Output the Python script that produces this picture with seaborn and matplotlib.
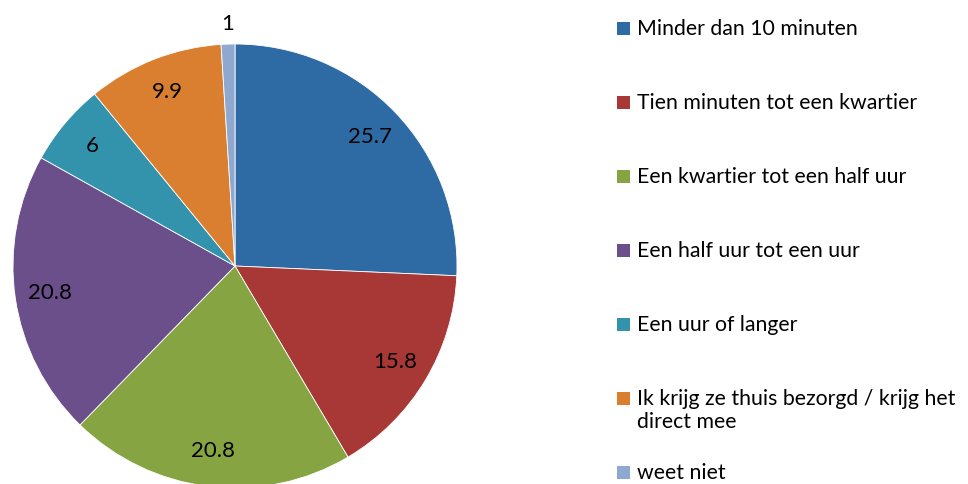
import numpy as np
import matplotlib.pyplot as plt
import seaborn as sns
from matplotlib.patches import Rectangle

categories = [
    "Minder dan 10 minuten",
    "Tien minuten tot een kwartier",
    "Een kwartier tot een half uur",
    "Een half uur tot een uur",
    "Een uur of langer",
    "Ik krijg ze thuis bezorgd / krijg het\ndirect mee",
    "weet niet",
]
values = [25.7, 15.8, 20.8, 20.8, 6, 9.9, 1]
colors = ["#2E6BA5", "#A83836", "#86A442", "#6A4F8B", "#3392AC", "#DA7F2F", "#8EA8D0"]

sns.set_theme(style="white")
plt.rcParams["font.family"] = ["Lato", "DejaVu Sans"]

fig = plt.figure(figsize=(9.68, 4.84), dpi=100)
W, H = 968, 484

# pie: centre (235, 266) px, radius 222 px
cx, cy, r = 235, 266, 222
ax = fig.add_axes([(cx - r) / W, (H - cy - r) / H, 2 * r / W, 2 * r / H])
wedges, _ = ax.pie(values, colors=colors, startangle=90, counterclock=False,
                   radius=1, wedgeprops=dict(edgecolor="white", linewidth=0.6))
ax.set_xlim(-1, 1)
ax.set_ylim(-1, 1)
ax.set_aspect("equal")
ax.axis("off")

# value labels
for w, v in zip(wedges, values):
    mid = np.deg2rad((w.theta1 + w.theta2) / 2)
    d = 0.84 if v >= 3 else 1.09
    ax.text(d * np.cos(mid), d * np.sin(mid), f"{v:g}", ha="center", va="center",
            fontsize=16, color="black", clip_on=False)

# legend drawn at fixed rows
row_y = [29, 103, 177, 251, 325, 399, 473]
for lab, col, y in zip(categories, colors, row_y):
    fig.patches.append(Rectangle((617 / W, (H - y - 6) / H), 13 / W, 13 / H,
                                 transform=fig.transFigure, facecolor=col,
                                 edgecolor="none"))
    for i, line in enumerate(lab.split("\n")):
        fig.text(637 / W, (H - y - 23 * i) / H, line, ha="left", va="center",
                 fontsize=15.3, color="black")

fig.savefig("out.png", dpi=100)
